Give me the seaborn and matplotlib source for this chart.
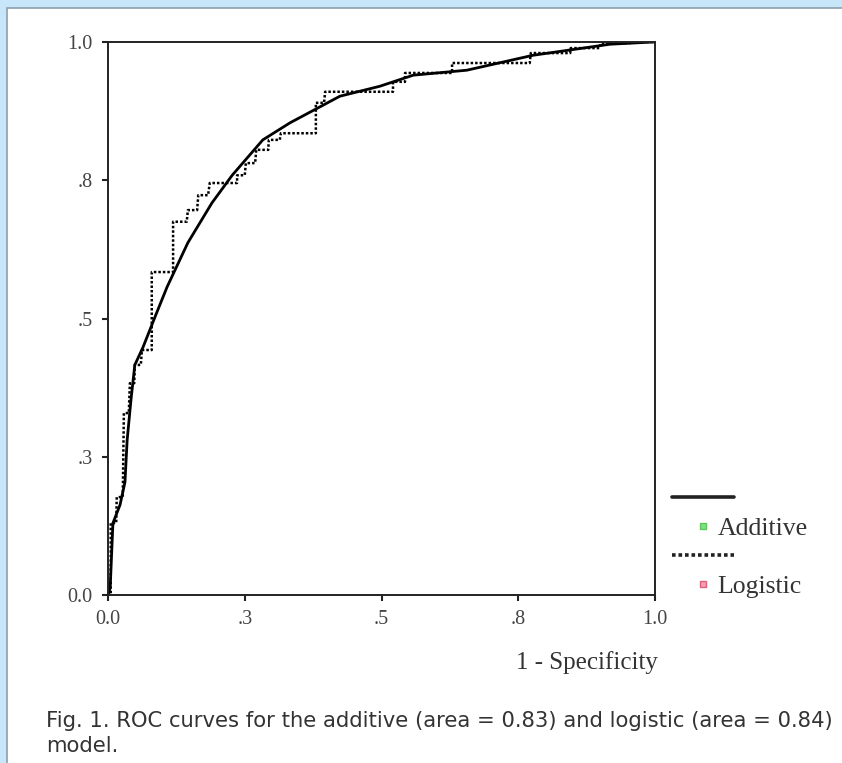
import matplotlib
matplotlib.use("Agg")
import matplotlib.pyplot as plt
from matplotlib.lines import Line2D
from matplotlib.patches import Rectangle
import seaborn as sns
import pandas as pd

# ---- data ----
additive_fpr = [0.0, 0.004, 0.009, 0.022, 0.031, 0.035, 0.042, 0.049, 0.064, 0.086,
                0.108, 0.146, 0.190, 0.227, 0.283, 0.333, 0.424, 0.497, 0.558, 0.656,
                0.777, 0.918, 0.996, 1.0]
additive_tpr = [0.0, 0.013, 0.130, 0.163, 0.204, 0.280, 0.353, 0.416, 0.448, 0.503,
                0.557, 0.637, 0.709, 0.759, 0.823, 0.854, 0.902, 0.920, 0.940, 0.949,
                0.976, 0.996, 1.0, 1.0]

logistic_fpr = [0.0, 0.005, 0.005, 0.015, 0.016, 0.027, 0.029, 0.038, 0.040, 0.048,
                0.049, 0.060, 0.062, 0.080, 0.080, 0.119, 0.119, 0.144, 0.146, 0.163,
                0.165, 0.183, 0.186, 0.236, 0.236, 0.250, 0.252, 0.269, 0.271, 0.293,
                0.294, 0.314, 0.316, 0.380, 0.380, 0.395, 0.397, 0.521, 0.521, 0.543,
                0.543, 0.629, 0.629, 0.771, 0.773, 0.845, 0.846, 0.899, 0.901, 0.954,
                0.956, 1.0]
logistic_tpr = [0.0, 0.0, 0.130, 0.130, 0.177, 0.177, 0.329, 0.329, 0.383, 0.383,
                0.416, 0.416, 0.443, 0.443, 0.584, 0.584, 0.675, 0.675, 0.696, 0.696,
                0.723, 0.723, 0.745, 0.745, 0.759, 0.759, 0.781, 0.781, 0.805, 0.805,
                0.823, 0.823, 0.835, 0.835, 0.890, 0.890, 0.910, 0.910, 0.928, 0.928,
                0.944, 0.944, 0.962, 0.962, 0.980, 0.980, 0.989, 0.989, 0.998, 0.998,
                1.0, 1.0]

tick_values = [0.0, 0.25, 0.5, 0.75, 1.0]
tick_labels = ["0.0", ".3", ".5", ".8", "1.0"]
series_labels = ["Additive", "Logistic"]
x_label = "1 - Specificity"
caption_lines = ["Fig. 1. ROC curves for the additive (area = 0.83) and logistic (area = 0.84)",
                 "model."]

# ---- figure ----
sns.set_style("white")
plt.rcParams["font.family"] = ["Liberation Serif", "DejaVu Serif"]

fig = plt.figure(figsize=(8.42, 7.63), dpi=100)
fig.patch.set_facecolor("#c8e6f9")
fig.patches.append(Rectangle((7 / 842, -0.01), 1.02 - 7 / 842, 1.01 - 8 / 763,
                             transform=fig.transFigure, facecolor="white",
                             edgecolor="#8c9eac", linewidth=1.2, zorder=-5))

ax = fig.add_axes([108 / 842, 1 - 595 / 763, 547 / 842, 553 / 763])
ax.set_facecolor("white")
ax.set_zorder(2)

df_add = pd.DataFrame({"fpr": additive_fpr, "tpr": additive_tpr})
df_log = pd.DataFrame({"fpr": logistic_fpr, "tpr": logistic_tpr})

sns.lineplot(data=df_add, x="fpr", y="tpr", ax=ax, sort=False, estimator=None,
             color="black", linewidth=2.0, solid_joinstyle="round")
sns.lineplot(data=df_log, x="fpr", y="tpr", ax=ax, sort=False, estimator=None,
             color="black", linewidth=1.8, linestyle=(0, (1.0, 0.8)))

ax.set_xlim(0, 1)
ax.set_ylim(0, 1)
ax.set_xticks(tick_values)
ax.set_xticklabels(tick_labels)
ax.set_yticks(tick_values)
ax.set_yticklabels(tick_labels)
ax.tick_params(axis="both", direction="out", length=4, width=1.5, color="#222222",
               labelsize=14.5, labelcolor="#444444", bottom=True, left=True, pad=7)
for s in ax.spines.values():
    s.set_color("#222222")
    s.set_linewidth(1.4)
    s.set_visible(True)

ax.set_xlabel(x_label, fontsize=18, color="#333333")
ax.xaxis.set_label_coords(1.005, -0.101)
ax.xaxis.label.set_horizontalalignment("right")
ax.xaxis.label.set_verticalalignment("top")
ax.set_ylabel("")

handles = [
    Line2D([], [], color="#222222", linewidth=2.6),
    Line2D([], [], linestyle="none", marker="s", markersize=5,
           markerfacecolor="#7ee07e", markeredgecolor="#5cc85c"),
    Line2D([], [], color="#222222", linewidth=2.6, linestyle=(0, (1.0, 0.8))),
    Line2D([], [], linestyle="none", marker="s", markersize=5,
           markerfacecolor="#f3a0b4", markeredgecolor="#e0607c"),
]
labels = ["", series_labels[0], "", series_labels[1]]
leg = ax.legend(handles, labels, loc="upper left",
                bbox_to_anchor=(672 / 842, 1 - 488 / 763), bbox_transform=fig.transFigure,
                frameon=False, fontsize=18.5, handlelength=2.4, handletextpad=-0.62,
                labelspacing=0.23, borderaxespad=0, borderpad=0)
for t in leg.get_texts():
    t.set_color("#333333")

fig.text(46 / 842, 1 - 727 / 763, caption_lines[0], fontsize=15.2, color="#333333",
         family=["DejaVu Sans"], va="baseline", ha="left")
fig.text(46 / 842, 1 - 752 / 763, caption_lines[1], fontsize=15.2, color="#333333",
         family=["DejaVu Sans"], va="baseline", ha="left")

fig.savefig("out.png", dpi=100, facecolor=fig.get_facecolor())
